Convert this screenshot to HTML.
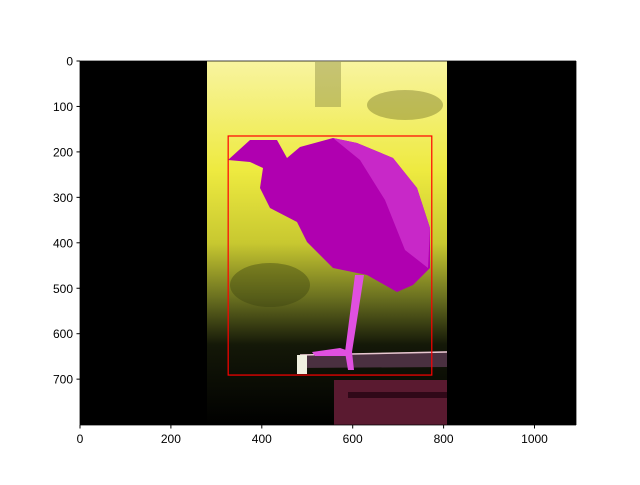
<!DOCTYPE html>
<html><head><meta charset="utf-8"><style>
html,body{margin:0;padding:0;background:#fff;}
svg text{font-family:"Liberation Sans","DejaVu Sans",sans-serif;font-size:12px;fill:#000;}
</style></head><body>
<svg id="chart" width="640" height="480">
<defs>
<linearGradient id="bg" x1="0" y1="0" x2="0" y2="1">
<stop offset="0" stop-color="#f8f4a0"/>
<stop offset="0.3" stop-color="#eeea40"/>
<stop offset="0.5" stop-color="#c8c830"/>
<stop offset="0.65" stop-color="#6a7020"/>
<stop offset="0.78" stop-color="#141808"/>
<stop offset="1" stop-color="#000"/>
</linearGradient>
</defs>
<rect x="80" y="61" width="496" height="364" fill="#000"/>
<g>
<rect x="207" y="61" width="240" height="364" fill="url(#bg)"/>
<rect x="315" y="62" width="26" height="45" fill="#8a8a40" opacity="0.45"/>
<ellipse cx="405" cy="105" rx="38" ry="15" fill="#6a6a20" opacity="0.4"/>
<ellipse cx="270" cy="285" rx="40" ry="22" fill="#3a4010" opacity="0.4"/>
<polygon points="297,355 447,351 447,367 297,368" fill="#4a3040"/>
<line x1="300" y1="355" x2="447" y2="352" stroke="#e8c8d0" stroke-width="1.5"/>
<rect x="297" y="355" width="10" height="19" fill="#f0f0e0"/>
<rect x="334" y="380" width="113" height="45" fill="#5a1a30"/>
<rect x="348" y="392" width="99" height="6" fill="#300818"/>
</g>
<g>
<polygon points="228,160 250,140 277,140 287,158 300,147 333,138 357,143 393,158 417,188 430,228 430,268 413,285 397,292 367,275 333,268 307,242 297,222 270,208 260,188 263,168 250,162" fill="#b000b0"/>
<polygon points="333,138 357,143 393,158 417,188 430,228 428,268 405,250 385,200 360,160" fill="#c828c8"/>
<polygon points="355,275 364,275 352,352 354,370 348,370 345,352" fill="#e050e0"/>
<polygon points="312,352 340,348 352,352 350,356 315,356" fill="#e050e0"/>
</g>
<g id="boxes"></g>
<line x1="80" y1="61" x2="80" y2="425" stroke="#000" stroke-width="0.8"/>
<line x1="576" y1="61" x2="576" y2="425" stroke="#000" stroke-width="0.8"/>
<line x1="80" y1="61" x2="576" y2="61" stroke="#000" stroke-width="0.8"/>
<line x1="80" y1="425" x2="576" y2="425" stroke="#000" stroke-width="0.8"/>
<g id="xticks"></g><g id="yticks"></g>
</svg>
<script>
const xTicks=[0,200,400,600,800,1000];
const yTicks=[0,100,200,300,400,500,600,700];
const bboxX=[326,774];
const bboxY=[165,691];
const x0=80,y0=61,k=0.4545;
function sx(v){return x0+v*k;}
function sy(v){return y0+v*k;}
const NS='http://www.w3.org/2000/svg';
const xg=document.getElementById('xticks'),yg=document.getElementById('yticks'),bg=document.getElementById('boxes');
const r=document.createElementNS(NS,'rect');
r.setAttribute('x',sx(bboxX[0]));r.setAttribute('y',sy(bboxY[0]));
r.setAttribute('width',sx(bboxX[1])-sx(bboxX[0]));r.setAttribute('height',sy(bboxY[1])-sy(bboxY[0]));
r.setAttribute('fill','none');r.setAttribute('stroke','#ff0000');r.setAttribute('stroke-width','1.2');


bg.appendChild(r);
xTicks.forEach(v=>{
 const l=document.createElementNS(NS,'line');
 l.setAttribute('x1',sx(v));l.setAttribute('x2',sx(v));l.setAttribute('y1',425);l.setAttribute('y2',428.5);l.setAttribute('stroke','#000');
 
 
 xg.appendChild(l);
 const t=document.createElementNS(NS,'text');
 t.setAttribute('x',sx(v));t.setAttribute('y',443);t.setAttribute('text-anchor','middle');t.textContent=v;
 
 
 xg.appendChild(t);
});
yTicks.forEach(v=>{
 const l=document.createElementNS(NS,'line');
 l.setAttribute('x1',76.5);l.setAttribute('x2',80);l.setAttribute('y1',sy(v));l.setAttribute('y2',sy(v));l.setAttribute('stroke','#000');
 
 
 yg.appendChild(l);
 const t=document.createElementNS(NS,'text');
 t.setAttribute('x',73);t.setAttribute('y',sy(v)+4.5);t.setAttribute('text-anchor','end');t.textContent=v;
 
 
 yg.appendChild(t);
});
</script>
</body></html>
